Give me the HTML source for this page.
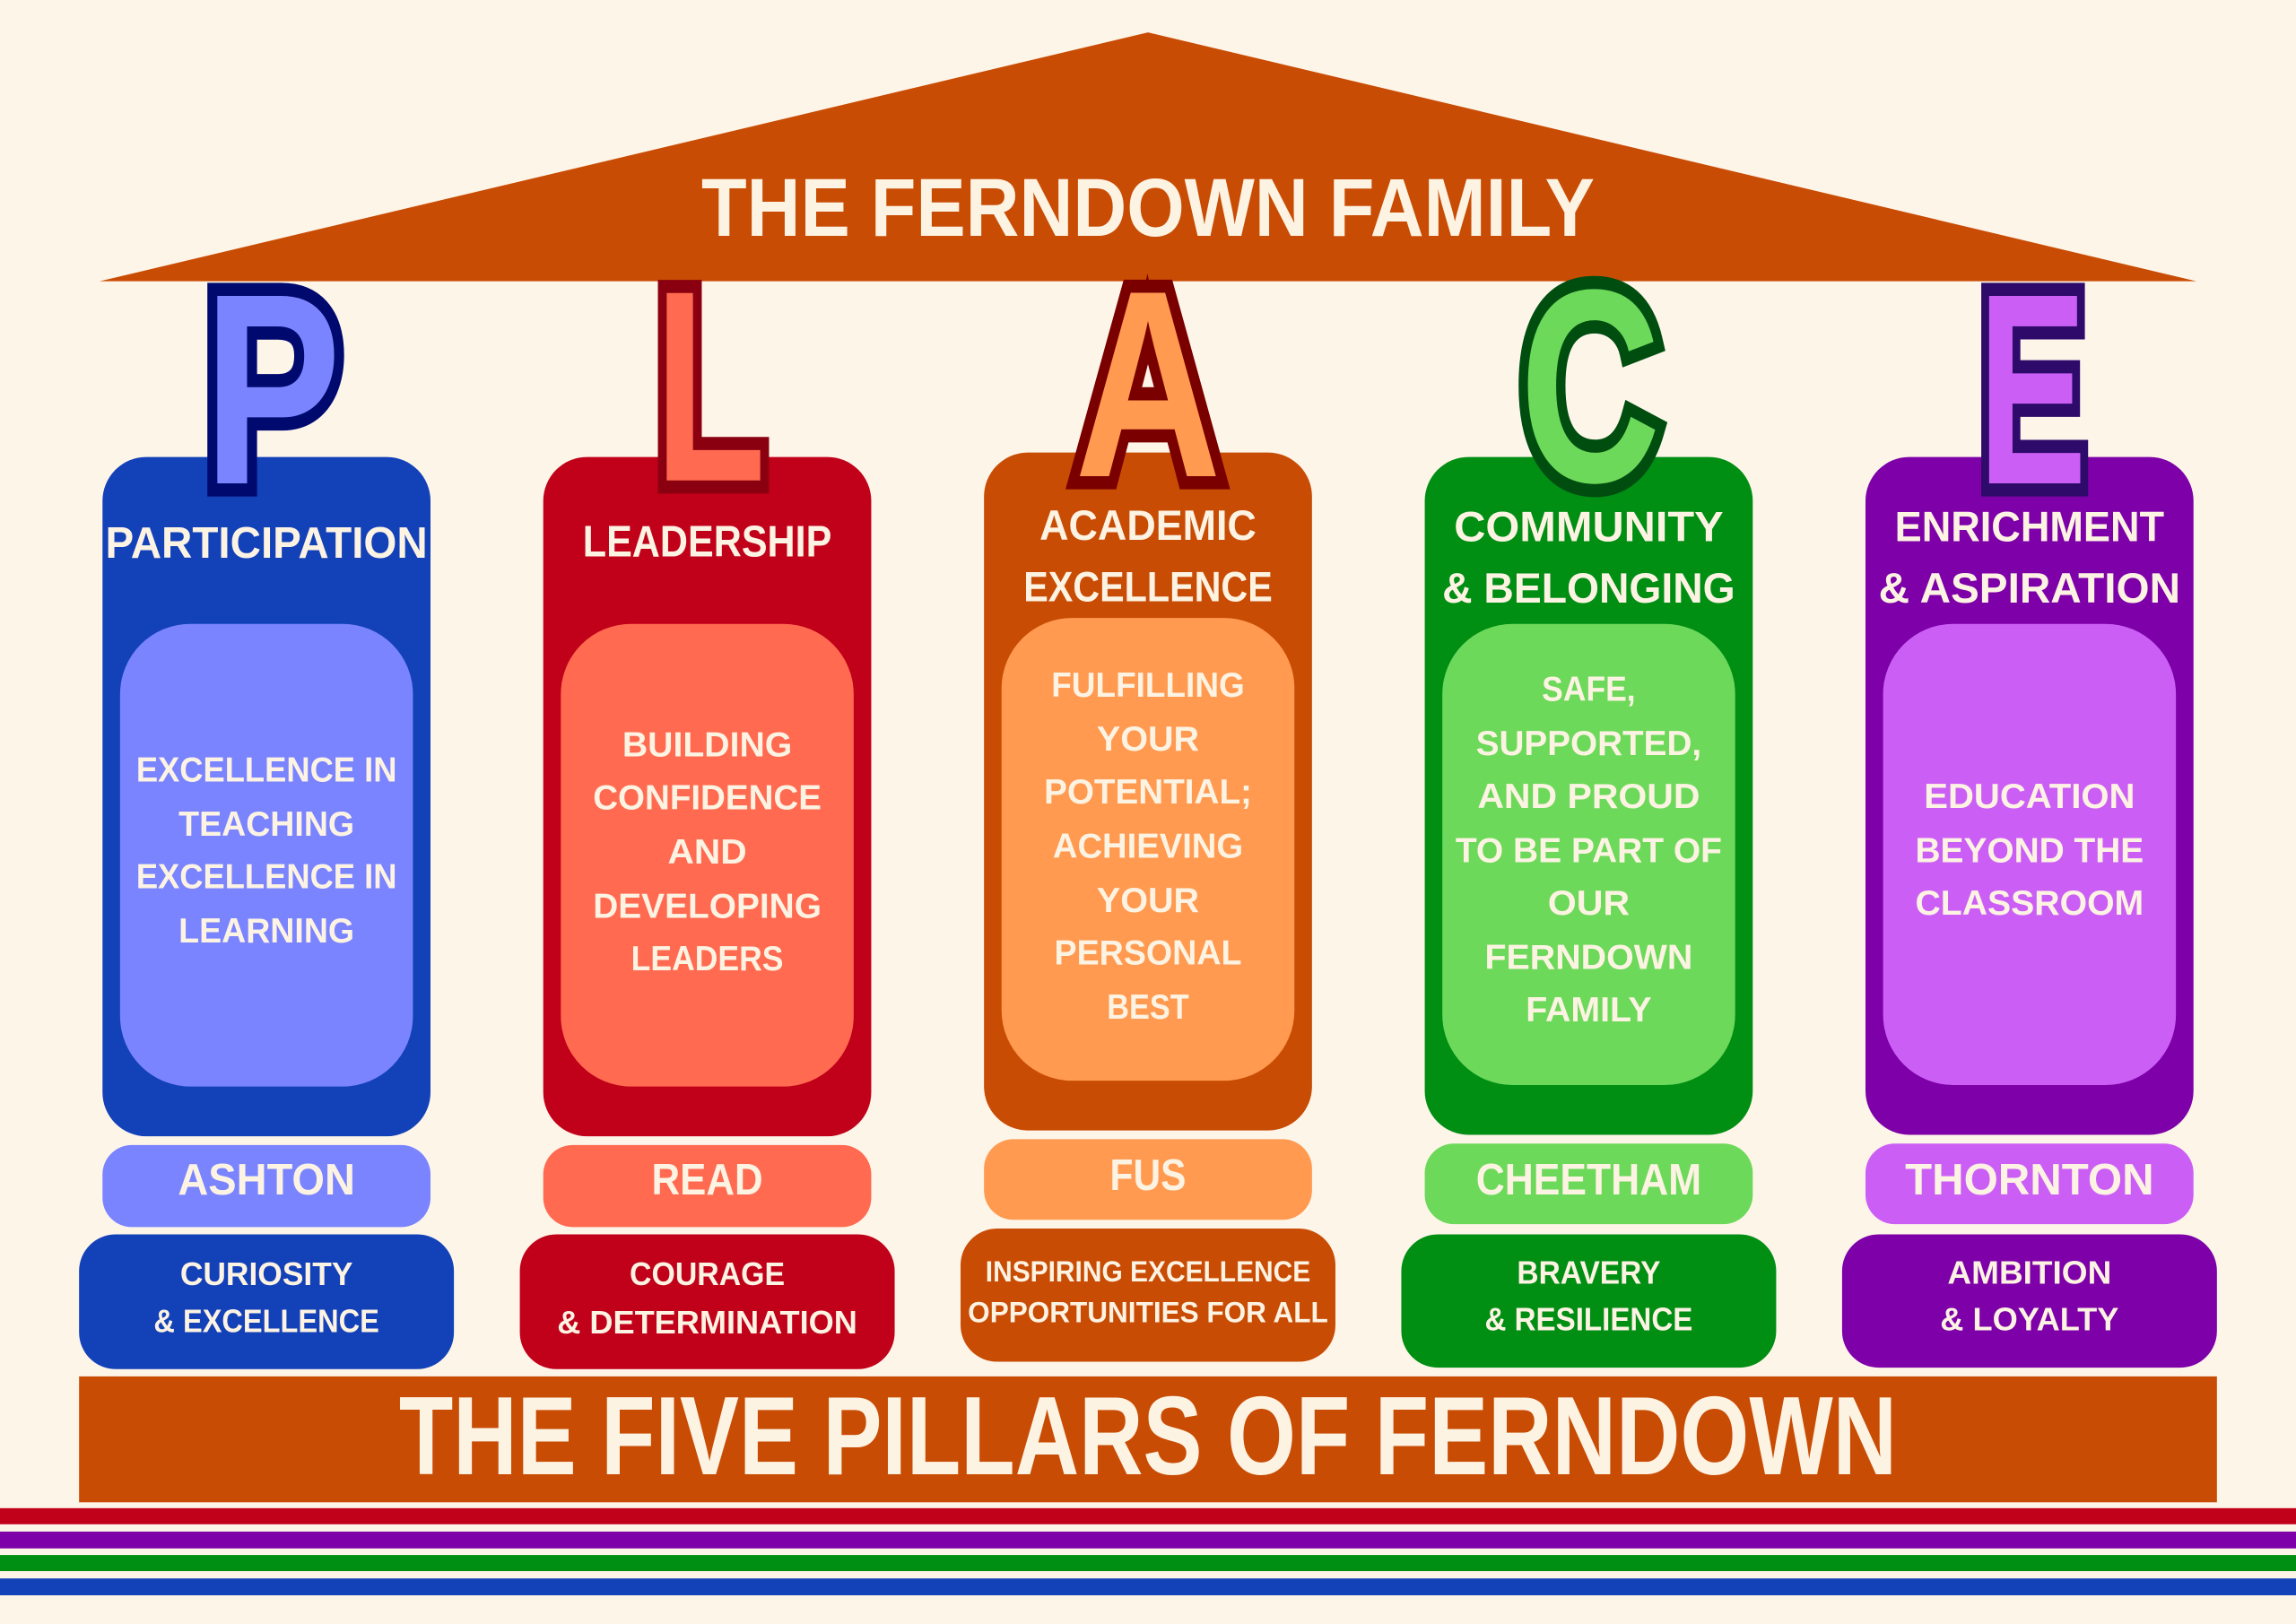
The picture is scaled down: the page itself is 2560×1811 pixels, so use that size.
<!DOCTYPE html>
<html><head><meta charset="utf-8"><style>
html,body{margin:0;padding:0;background:#fef5e9;}
svg{display:block;}
text{font-family:"Liberation Sans",sans-serif;font-weight:bold;fill:#fdf3e3;text-anchor:middle;dominant-baseline:central;}
text.big{stroke-width:18;paint-order:stroke;stroke-linejoin:miter;}
</style></head><body>
<svg width="2560" height="1811" viewBox="0 0 1568 1109" xmlns="http://www.w3.org/2000/svg">
<rect width="1568" height="1109" fill="#fef5e9"/>
<polygon points="784,22 1500,192 68,192" fill="#c94c04"/>
<text x="784" y="142" font-size="56" textLength="610" lengthAdjust="spacingAndGlyphs">THE FERNDOWN FAMILY</text>

<!-- pillar P -->
<rect x="70" y="312" width="224" height="464" rx="30" fill="#1341b8"/>
<rect x="82" y="426" width="200" height="316" rx="48" fill="#7a84ff"/>
<rect x="70" y="782" width="224" height="56" rx="20" fill="#7a84ff"/>
<rect x="54" y="843" width="256" height="92" rx="25" fill="#1341b8"/>
<text class="big" x="186" y="266" font-size="186" style="fill:#7a84ff;stroke:#000a6e" textLength="94" lengthAdjust="spacingAndGlyphs">P</text>
<text x="182" y="371" font-size="30" textLength="220" lengthAdjust="spacingAndGlyphs">PARTICIPATION</text>
<text x="182" y="526" font-size="24" textLength="178" lengthAdjust="spacingAndGlyphs">EXCELLENCE IN</text>
<text x="182" y="563" font-size="24" textLength="120" lengthAdjust="spacingAndGlyphs">TEACHING</text>
<text x="182" y="599" font-size="24" textLength="178" lengthAdjust="spacingAndGlyphs">EXCELLENCE IN</text>
<text x="182" y="636" font-size="24" textLength="120" lengthAdjust="spacingAndGlyphs">LEARNING</text>
<text x="182" y="806" font-size="30" textLength="121" lengthAdjust="spacingAndGlyphs">ASHTON</text>
<text x="182" y="870" font-size="22" textLength="118" lengthAdjust="spacingAndGlyphs">CURIOSITY</text>
<text x="182" y="902" font-size="22" textLength="154" lengthAdjust="spacingAndGlyphs">&amp; EXCELLENCE</text>

<!-- pillar L -->
<rect x="371" y="312" width="224" height="464" rx="30" fill="#c1001a"/>
<rect x="383" y="426" width="200" height="316" rx="48" fill="#ff6a50"/>
<rect x="371" y="782" width="224" height="56" rx="20" fill="#ff6a50"/>
<rect x="355" y="843" width="256" height="92" rx="25" fill="#c1001a"/>
<text class="big" x="485" y="264" font-size="186" style="fill:#ff6a50;stroke:#8a0010" textLength="76" lengthAdjust="spacingAndGlyphs">L</text>
<text x="483" y="370" font-size="30" textLength="170" lengthAdjust="spacingAndGlyphs">LEADERSHIP</text>
<text x="483" y="509" font-size="24" textLength="116" lengthAdjust="spacingAndGlyphs">BUILDING</text>
<text x="483" y="545" font-size="24" textLength="156" lengthAdjust="spacingAndGlyphs">CONFIDENCE</text>
<text x="483" y="582" font-size="24" textLength="54" lengthAdjust="spacingAndGlyphs">AND</text>
<text x="483" y="619" font-size="24" textLength="156" lengthAdjust="spacingAndGlyphs">DEVELOPING</text>
<text x="483" y="655" font-size="24" textLength="104" lengthAdjust="spacingAndGlyphs">LEADERS</text>
<text x="483" y="806" font-size="30" textLength="76" lengthAdjust="spacingAndGlyphs">READ</text>
<text x="483" y="870" font-size="22" textLength="106" lengthAdjust="spacingAndGlyphs">COURAGE</text>
<text x="483" y="903" font-size="22" textLength="205" lengthAdjust="spacingAndGlyphs">&amp; DETERMINATION</text>

<!-- pillar A -->
<rect x="672" y="309" width="224" height="463" rx="30" fill="#c94c04"/>
<rect x="684" y="422" width="200" height="316" rx="48" fill="#ff9a50"/>
<rect x="672" y="778" width="224" height="55" rx="20" fill="#ff9a50"/>
<rect x="656" y="839" width="256" height="91" rx="25" fill="#c94c04"/>
<text class="big" x="784" y="262" font-size="182" style="fill:#ff9a50;stroke:#7a0000" textLength="100" lengthAdjust="spacingAndGlyphs">A</text>
<text x="784" y="359" font-size="29" textLength="148" lengthAdjust="spacingAndGlyphs">ACADEMIC</text>
<text x="784" y="401" font-size="29" textLength="170" lengthAdjust="spacingAndGlyphs">EXCELLENCE</text>
<text x="784" y="468" font-size="24" textLength="132" lengthAdjust="spacingAndGlyphs">FULFILLING</text>
<text x="784" y="505" font-size="24" textLength="70" lengthAdjust="spacingAndGlyphs">YOUR</text>
<text x="784" y="541" font-size="24" textLength="142" lengthAdjust="spacingAndGlyphs">POTENTIAL;</text>
<text x="784" y="578" font-size="24" textLength="130" lengthAdjust="spacingAndGlyphs">ACHIEVING</text>
<text x="784" y="615" font-size="24" textLength="70" lengthAdjust="spacingAndGlyphs">YOUR</text>
<text x="784" y="651" font-size="24" textLength="128" lengthAdjust="spacingAndGlyphs">PERSONAL</text>
<text x="784" y="688" font-size="24" textLength="56" lengthAdjust="spacingAndGlyphs">BEST</text>
<text x="784" y="803" font-size="30" textLength="52" lengthAdjust="spacingAndGlyphs">FUS</text>
<text x="784" y="868" font-size="20" textLength="222" lengthAdjust="spacingAndGlyphs">INSPIRING EXCELLENCE</text>
<text x="784" y="896" font-size="20" textLength="246" lengthAdjust="spacingAndGlyphs">OPPORTUNITIES FOR ALL</text>

<!-- pillar C -->
<rect x="973" y="312" width="224" height="463" rx="30" fill="#008e13"/>
<rect x="985" y="426" width="200" height="315" rx="48" fill="#6cd95a"/>
<rect x="973" y="781" width="224" height="55" rx="20" fill="#6cd95a"/>
<rect x="957" y="843" width="256" height="91" rx="25" fill="#008e13"/>
<text class="big" x="1086" y="264" font-size="188" style="fill:#6cd95a;stroke:#004d10" textLength="96" lengthAdjust="spacingAndGlyphs">C</text>
<text x="1085" y="360" font-size="29" textLength="184" lengthAdjust="spacingAndGlyphs">COMMUNITY</text>
<text x="1085" y="402" font-size="29" textLength="200" lengthAdjust="spacingAndGlyphs">&amp; BELONGING</text>
<text x="1085" y="471" font-size="24" textLength="64" lengthAdjust="spacingAndGlyphs">SAFE,</text>
<text x="1085" y="508" font-size="24" textLength="154" lengthAdjust="spacingAndGlyphs">SUPPORTED,</text>
<text x="1085" y="544" font-size="24" textLength="152" lengthAdjust="spacingAndGlyphs">AND PROUD</text>
<text x="1085" y="581" font-size="24" textLength="182" lengthAdjust="spacingAndGlyphs">TO BE PART OF</text>
<text x="1085" y="617" font-size="24" textLength="56" lengthAdjust="spacingAndGlyphs">OUR</text>
<text x="1085" y="654" font-size="24" textLength="142" lengthAdjust="spacingAndGlyphs">FERNDOWN</text>
<text x="1085" y="690" font-size="24" textLength="86" lengthAdjust="spacingAndGlyphs">FAMILY</text>
<text x="1085" y="806" font-size="30" textLength="154" lengthAdjust="spacingAndGlyphs">CHEETHAM</text>
<text x="1085" y="869" font-size="22" textLength="98" lengthAdjust="spacingAndGlyphs">BRAVERY</text>
<text x="1085" y="901" font-size="22" textLength="142" lengthAdjust="spacingAndGlyphs">&amp; RESILIENCE</text>

<!-- pillar E -->
<rect x="1274" y="312" width="224" height="463" rx="30" fill="#7d00a8"/>
<rect x="1286" y="426" width="200" height="315" rx="48" fill="#cb5ff5"/>
<rect x="1274" y="781" width="224" height="55" rx="20" fill="#cb5ff5"/>
<rect x="1258" y="843" width="256" height="91" rx="25" fill="#7d00a8"/>
<text class="big" x="1388" y="266" font-size="186" style="fill:#cb5ff5;stroke:#2e0a6a" textLength="74" lengthAdjust="spacingAndGlyphs">E</text>
<text x="1386" y="360" font-size="29" textLength="184" lengthAdjust="spacingAndGlyphs">ENRICHMENT</text>
<text x="1386" y="402" font-size="29" textLength="206" lengthAdjust="spacingAndGlyphs">&amp; ASPIRATION</text>
<text x="1386" y="544" font-size="24" textLength="144" lengthAdjust="spacingAndGlyphs">EDUCATION</text>
<text x="1386" y="581" font-size="24" textLength="156" lengthAdjust="spacingAndGlyphs">BEYOND THE</text>
<text x="1386" y="617" font-size="24" textLength="156" lengthAdjust="spacingAndGlyphs">CLASSROOM</text>
<text x="1386" y="806" font-size="30" textLength="170" lengthAdjust="spacingAndGlyphs">THORNTON</text>
<text x="1386" y="869" font-size="22" textLength="112" lengthAdjust="spacingAndGlyphs">AMBITION</text>
<text x="1386" y="901" font-size="22" textLength="122" lengthAdjust="spacingAndGlyphs">&amp; LOYALTY</text>

<!-- banner -->
<rect x="54" y="940" width="1460" height="86" fill="#c94c04"/>
<text x="784" y="981" font-size="76" textLength="1023" lengthAdjust="spacingAndGlyphs">THE FIVE PILLARS OF FERNDOWN</text>

<!-- stripes -->
<rect x="0" y="1030" width="1568" height="11" fill="#c1001a"/>
<rect x="0" y="1046" width="1568" height="11.5" fill="#7d00a8"/>
<rect x="0" y="1062" width="1568" height="11" fill="#008e13"/>
<rect x="0" y="1078" width="1568" height="11.5" fill="#1341b8"/>
</svg>
</body></html>
